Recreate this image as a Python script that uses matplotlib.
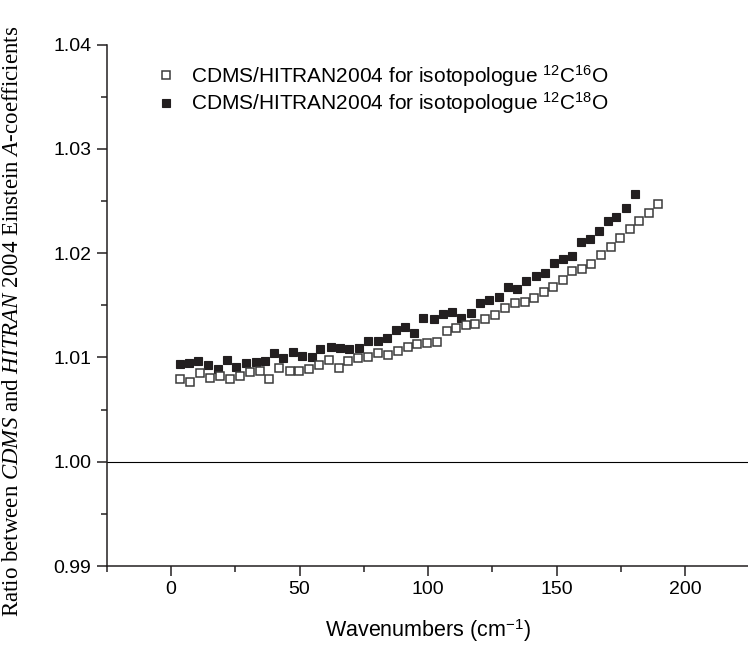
import matplotlib
matplotlib.use('Agg')
import matplotlib.pyplot as plt

plt.rcParams['font.family'] = ['Liberation Sans', 'DejaVu Sans']
plt.rcParams['mathtext.fontset'] = 'custom'
plt.rcParams['mathtext.rm'] = 'Liberation Sans'
plt.rcParams['mathtext.it'] = 'Liberation Serif:italic'

# 12C16O : open squares
x_c16o = [3.5, 7.4, 11.3, 15.2, 19.1, 22.9, 26.8, 30.6, 34.5, 38.3,
          42.2, 46.1, 49.9, 53.8, 57.7, 61.5, 65.2, 68.9, 72.8, 76.7,
          80.6, 84.3, 88.2, 92.1, 95.7, 99.5, 103.4, 107.2, 110.9, 114.8,
          118.4, 122.3, 126.1, 130.0, 133.6, 137.5, 141.1, 144.9, 148.5, 152.4,
          156.1, 159.8, 163.5, 167.2, 171.0, 174.6, 178.4, 182.0, 185.8, 189.4]
y_c16o = [1.00795, 1.00769, 1.00849, 1.00804, 1.00823, 1.00798, 1.00823, 1.00862, 1.00874, 1.00798,
          1.00903, 1.00869, 1.00869, 1.00886, 1.00932, 1.00977, 1.00897, 1.00970, 1.00999, 1.01009,
          1.01041, 1.01022, 1.01066, 1.01105, 1.01131, 1.01143, 1.01152, 1.01252, 1.01286, 1.01313,
          1.01322, 1.01370, 1.01409, 1.01473, 1.01521, 1.01530, 1.01569, 1.01626, 1.01674, 1.01745,
          1.01825, 1.01850, 1.01898, 1.01982, 1.02059, 1.02145, 1.02232, 1.02311, 1.02385, 1.02474]

# 12C18O : filled squares
x_c18o = [3.4, 7.0, 10.6, 14.4, 18.3, 21.9, 25.4, 29.1, 33.0, 36.6,
          40.1, 43.7, 47.5, 51.1, 54.8, 58.0, 62.2, 65.7, 69.3, 73.0,
          76.7, 80.4, 83.9, 87.5, 91.2, 94.7, 98.2, 102.1, 105.7, 109.3,
          112.8, 116.5, 120.0, 123.6, 127.4, 131.0, 134.5, 138.2, 141.8, 145.3,
          148.8, 152.4, 156.1, 159.6, 163.1, 166.5, 170.0, 173.2, 177.1, 180.6]
y_c18o = [1.00936, 1.00945, 1.00970, 1.00932, 1.00885, 1.00977, 1.00913, 1.00951, 1.00961, 1.00970,
          1.01041, 1.00999, 1.01057, 1.01013, 1.01001, 1.01085, 1.01105, 1.01095, 1.01080, 1.01089,
          1.01162, 1.01162, 1.01185, 1.01265, 1.01297, 1.01233, 1.01377, 1.01367, 1.01413, 1.01441,
          1.01377, 1.01431, 1.01521, 1.01553, 1.01585, 1.01674, 1.01655, 1.01729, 1.01783, 1.01809,
          1.01905, 1.01943, 1.01975, 1.02103, 1.02138, 1.02209, 1.02305, 1.02346, 1.02434, 1.02568]

label_16 = r'CDMS/HITRAN2004 for isotopologue $^{12}$C$^{16}$O'
label_18 = r'CDMS/HITRAN2004 for isotopologue $^{12}$C$^{18}$O'

fig = plt.figure(figsize=(7.48, 6.52), dpi=100)
ax = fig.add_axes([0.1426, 0.1319, 0.8595, 0.7995])

h18, = ax.plot(x_c18o, y_c18o, 's', ms=6.4, mfc='#231f20', mec='#231f20', mew=0.8, zorder=3)
h16, = ax.plot(x_c16o, y_c16o, 's', ms=6.0, mfc='white', mec='#3a3a3a', mew=1.1, zorder=4)
ax.axhline(1.0, color='black', lw=0.8, zorder=2)

ax.set_xlim(-25, 225)
ax.set_ylim(0.99, 1.04)
ax.set_xticks([0, 50, 100, 150, 200])
ax.set_xticks([-25, 25, 75, 125, 175, 225], minor=True)
ax.set_yticks([0.99, 1.00, 1.01, 1.02, 1.03, 1.04])
ax.set_yticklabels(['0.99', '1.00', '1.01', '1.02', '1.03', '1.04'])
ax.set_yticks([0.995, 1.005, 1.015, 1.025, 1.035], minor=True)

for s in ['top', 'right']:
    ax.spines[s].set_visible(False)
for s in ['left', 'bottom']:
    ax.spines[s].set_linewidth(1.1)
    ax.spines[s].set_color('#231f20')
ax.tick_params(which='major', direction='out', length=7, width=1.1, labelsize=14, color='#231f20', pad=4)
ax.tick_params(which='minor', direction='out', length=4, width=1.1, color='#231f20')

ax.set_xlabel(r'Wavenumbers (cm$^{-1}$)', fontsize=15.5, labelpad=14)
ax.set_ylabel(r'Ratio between $\it{CDMS}$ and $\it{HITRAN}$ 2004 Einstein $\it{A}$-coefficients',
              family='Liberation Serif', fontsize=16.5, labelpad=28)
ax.yaxis.set_label_coords(-0.13, 0.47)

ax.legend([h16, h18], [label_16, label_18], loc='upper left', bbox_to_anchor=(0.043, 1.0),
          frameon=False, fontsize=15, handletextpad=0.6, labelspacing=0.12, handlelength=1.2)

plt.savefig('out.png', dpi=100)
